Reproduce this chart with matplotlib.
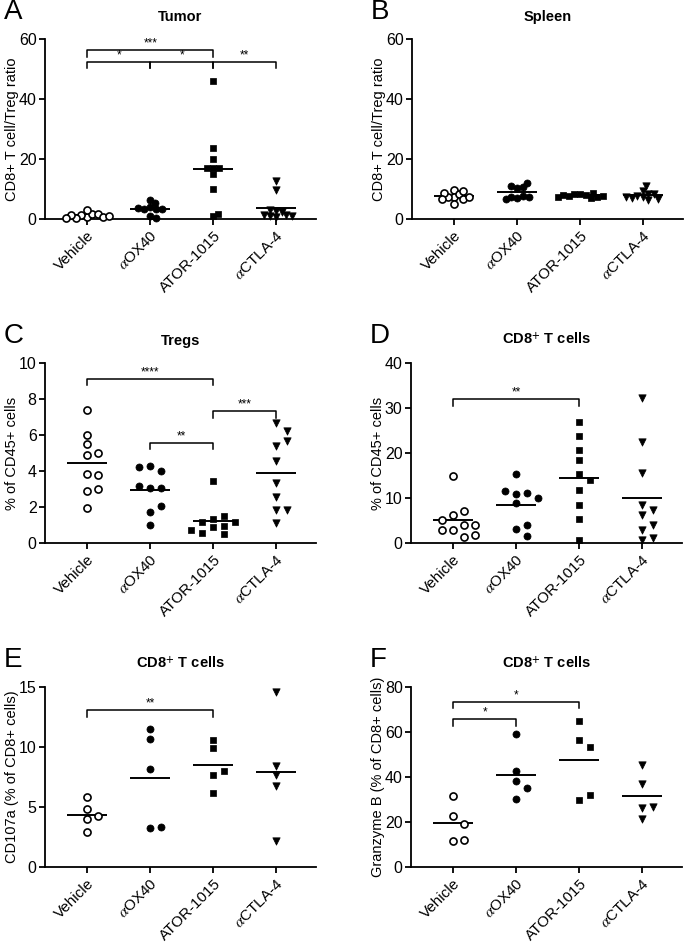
import numpy as np
import matplotlib
matplotlib.use("Agg")
import matplotlib.pyplot as plt

plt.rcParams["font.family"] = ["Liberation Sans", "DejaVu Sans"]
plt.rcParams["mathtext.fontset"] = "stix"

groups = ["Vehicle", r"$\alpha$OX40", "ATOR-1015", r"$\alpha$CTLA-4"]

# A: tumour CD8/Treg ratio
a_vehicle = [0.8, 1.8, 1.2, 1.7, 0.3, 1.3, 0.6, 2.9, 0.9, 0.5]
a_ox40 = [4.0, 0.9, 6.3, 3.5, 5.5, 3.5, 3.5, 3.8, 0.5]
a_ator = [46.0, 23.7, 19.9, 17.0, 17.0, 17.0, 15.0, 10.1, 0.9, 1.7]
a_ctla = [12.6, 9.8, 2.7, 2.5, 3.0, 0.8, 1.0, 1.2, 1.5, 0.9]

# B: spleen CD8/Treg ratio
b_vehicle = [9.8, 7.3, 8.2, 7.3, 4.9, 6.8, 8.7, 6.8, 9.5, 7.3]
b_ox40 = [7.1, 10.5, 7.8, 10.7, 7.5, 10.9, 7.3, 12.0, 6.7]
b_ator = [8.3, 7.9, 8.5, 7.6, 7.0, 8.8, 7.4, 8.1, 7.2, 7.8]
b_ctla = [9.3, 8.5, 7.3, 7.8, 11.0, 8.3, 7.0, 6.5, 6.8, 7.5]

# C: Tregs, % of CD45+
c_vehicle = [7.38, 6.0, 5.48, 4.89, 4.98, 3.84, 3.78, 2.9, 3.0, 1.97]
c_ox40 = [4.3, 4.0, 4.2, 3.03, 3.03, 3.19, 1.73, 2.07, 1.01]
c_ator = [3.45, 1.35, 1.48, 0.89, 0.96, 1.14, 1.14, 0.5, 0.55, 0.7]
c_ctla = [6.64, 6.2, 5.39, 5.68, 4.56, 3.32, 2.58, 1.81, 1.81, 1.11]

# D: CD8+ T cells, % of CD45+
d_vehicle = [14.8, 6.2, 7.1, 2.8, 4.0, 5.1, 3.0, 1.3, 1.8, 4.1]
d_ox40 = [15.3, 11.0, 11.1, 11.5, 8.9, 9.9, 3.2, 3.9, 1.5]
d_ator = [26.9, 23.7, 20.7, 18.5, 15.4, 13.9, 11.7, 8.4, 5.4, 0.7]
d_ctla = [32.2, 22.4, 15.6, 8.4, 6.3, 7.3, 2.8, 3.9, 0.7, 1.2]

# E: CD107a
e_vehicle = [5.83, 4.8, 4.22, 3.97, 2.92]
e_ox40 = [11.53, 10.7, 8.14, 3.25, 3.33]
e_ator = [10.6, 9.9, 7.64, 7.97, 6.2]
e_ctla = [14.58, 8.42, 7.7, 6.72, 2.17]

# F: Granzyme B
f_vehicle = [31.7, 22.6, 19.3, 11.4, 11.9]
f_ox40 = [58.9, 42.6, 38.1, 34.9, 30.3]
f_ator = [65.1, 56.4, 53.3, 29.7, 32.2]
f_ctla = [45.3, 37.1, 26.3, 26.7, 21.4]

markers = [dict(marker="o", facecolor="white", edgecolor="k", linewidths=1.2, s=26),
           dict(marker="o", facecolor="k", edgecolor="k", linewidths=0.5, s=26),
           dict(marker="s", facecolor="k", edgecolor="k", linewidths=0.5, s=24),
           dict(marker="v", facecolor="k", edgecolor="k", linewidths=0.5, s=28)]

FIG_W, FIG_H = 685, 943
AX_W, AX_H = 271, 180
XLIM = (-0.67, 3.63)
UNIT_PX = AX_W / (XLIM[1] - XLIM[0])


def swarm(vals, ymax, d, step):
    # greedy beeswarm in pixel space, returns offsets in category units
    ys = np.asarray(vals, float) / ymax * AX_H
    placed = []
    offs = np.zeros(len(ys))
    cands = [0]
    for k in range(1, 60):
        cands += [k * step, -k * step]
    for i in range(len(ys)):
        for c in cands:
            if all((c - px) ** 2 + (ys[i] - py) ** 2 >= d * d for px, py in placed):
                break
        placed.append((c, ys[i]))
        offs[i] = c / UNIT_PX
    return offs


def bracket(ax, x1, x2, y, text, ymax):
    h = 0.036 * ymax
    ax.plot([x1, x1, x2, x2], [y - h, y, y, y - h], color="k", lw=1.1, clip_on=False)
    ax.text((x1 + x2) / 2, y + 0.004 * ymax, text, ha="center", va="bottom", fontsize=8.5)


def panel(rect, letter, title, ylabel, ymax, step, data, brackets, d=8, dstep=11):
    l, t = rect
    ax = fig.add_axes([l / FIG_W, 1 - (t + AX_H) / FIG_H, AX_W / FIG_W, AX_H / FIG_H])
    for i, vals in enumerate(data):
        x = i + swarm(vals, ymax, d, dstep)
        ax.scatter(x, vals, zorder=3, clip_on=False, **markers[i])
        ax.hlines(np.mean(vals), i - 0.32, i + 0.32, color="k", lw=1.4, zorder=2)
    for x1, x2, y, txt in brackets:
        bracket(ax, x1, x2, y, txt, ymax)
    ax.set_xlim(*XLIM)
    ax.set_ylim(0, ymax)
    ax.set_yticks(np.arange(0, ymax + step / 2, step))
    ax.set_xticks(range(4))
    ax.set_xticklabels(groups, rotation=45, ha="right", rotation_mode="anchor", fontsize=11)
    ax.tick_params(axis="y", labelsize=11.5, width=1.3, length=4, pad=2)
    ax.tick_params(axis="x", width=1.3, length=4, pad=3)
    for s in ("top", "right"):
        ax.spines[s].set_visible(False)
    for s in ("left", "bottom"):
        ax.spines[s].set_linewidth(1.3)
    ax.set_ylabel(ylabel, fontsize=10.5)
    ax.yaxis.set_label_coords(-26 / AX_W, 0.5)
    ax.set_title(title, fontsize=10.5, fontweight="bold", pad=13)
    fig.text((l - 41) / FIG_W, 1 - (t - 27) / FIG_H, letter, fontsize=20, va="center", ha="left")
    return ax


fig = plt.figure(figsize=(FIG_W / 100, FIG_H / 100), dpi=100)

cd8 = r"CD8$^{\mathbf{+}}$ T cells"
panel((45, 39), "A", "Tumor", "CD8+ T cell/Treg ratio", 60, 20,
      [a_vehicle, a_ox40, a_ator, a_ctla],
      [(0, 2, 56.3, "***"), (0, 1, 52.4, "*"), (1, 2, 52.4, "*"), (2, 3, 52.4, "**")],
      d=5.5, dstep=1)
panel((412, 39), "B", "Spleen", "CD8+ T cell/Treg ratio", 60, 20,
      [b_vehicle, b_ox40, b_ator, b_ctla], [], d=5.5, dstep=1)
panel((45, 363), "C", "Tregs", "% of CD45+ cells", 10, 2,
      [c_vehicle, c_ox40, c_ator, c_ctla],
      [(0, 2, 9.13, "****"), (2, 3, 7.32, "***"), (1, 2, 5.57, "**")])
panel((411, 363), "D", cd8, "% of CD45+ cells", 40, 10,
      [d_vehicle, d_ox40, d_ator, d_ctla],
      [(0, 2, 31.9, "**")])
panel((45, 687), "E", cd8, "CD107a (% of CD8+ cells)", 15, 5,
      [e_vehicle, e_ox40, e_ator, e_ctla],
      [(0, 2, 13.06, "**")])
panel((411, 687), "F", cd8, "Granzyme B (% of CD8+ cells)", 80, 20,
      [f_vehicle, f_ox40, f_ator, f_ctla],
      [(0, 2, 73.4, "*"), (0, 1, 65.6, "*")])

fig.savefig("out.png", dpi=100)
